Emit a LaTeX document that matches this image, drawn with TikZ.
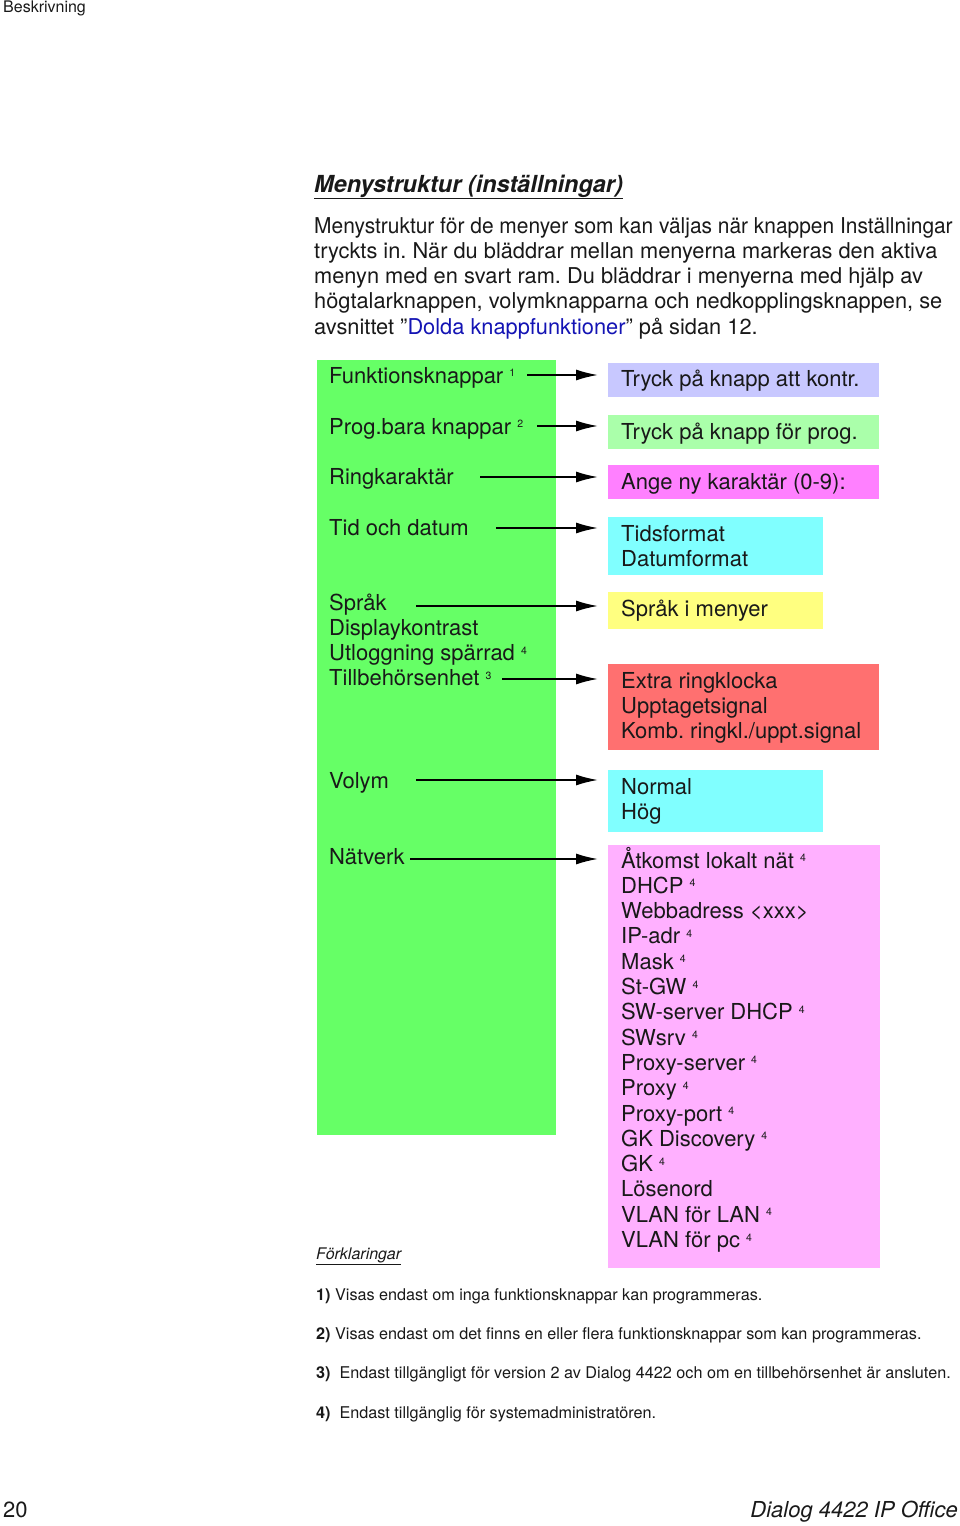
\documentclass[tikz,border=0pt]{standalone}
\usepackage{fontspec}
\setmainfont{TeX Gyre Heros}
\usetikzlibrary{arrows.meta}
\definecolor{gbox}{RGB}{102,255,102}
\definecolor{lav}{RGB}{200,200,255}
\definecolor{lgreen}{RGB}{170,255,170}
\definecolor{mag}{RGB}{255,128,255}
\definecolor{cyanb}{RGB}{128,255,255}
\definecolor{yel}{RGB}{255,255,128}
\definecolor{redb}{RGB}{255,112,112}
\definecolor{pinkb}{RGB}{255,176,255}
\definecolor{linkblue}{RGB}{20,20,180}
\definecolor{txt}{RGB}{25,25,25}
\newcommand{\fn}[1]{\ \raisebox{6.5pt}{\fontsize{10.5}{10.5}\selectfont #1}}
\newcommand{\mytxt}{\fontsize{22}{25.3}\selectfont}
\newcommand{\partxt}{\fontsize{21.8}{25.3}\selectfont}
\newcommand{\smtxt}{\fontsize{16.2}{18}\selectfont}
\frenchspacing
\begin{document}
\begin{tikzpicture}[x=1pt,y=-1pt,
  lbl/.style={anchor=base west,inner sep=0pt,text=txt,font=\mytxt},
  par/.style={anchor=base west,inner sep=0pt,text=txt,font=\partxt},
  small/.style={anchor=base west,inner sep=0pt,text=txt,font=\smtxt},
  boxr/.style={anchor=north west,inner sep=0pt,draw=none},
  arr/.style={-{Latex[length=22pt,width=11pt]},line width=1.7pt,shorten >=10pt}]
\useasboundingbox (0,0) rectangle (960,1526);
% header
\node[small,font=\fontsize{16}{18}\selectfont] (hdr) at (3,12) {Beskrivning};
\node[lbl,font=\fontsize{23.5}{25}\selectfont\bfseries\itshape] (title) at (314,192) {Menystruktur (inställningar)};
\draw[line width=1.3pt,txt] (title.south west) ++(0,1) coordinate (u1) -- (title.south east |- u1);
% paragraph
\node[par] (p1) at (314,233) {\scalebox{0.96}[1]{Menystruktur för de menyer som kan väljas när knappen Inställningar}};
\node[par] (p2) at (314,258.3) {tryckts in. När du bläddrar mellan menyerna markeras den aktiva};
\node[par] (p3) at (314,283.6) {menyn med en svart ram. Du bläddrar i menyerna med hjälp av};
\node[par] (p4) at (314,308.9) {högtalarknappen, volymknapparna och nedkopplingsknappen, se};
\node[par] (p5) at (314,334.2) {avsnittet ”\textcolor{linkblue}{Dolda knappfunktioner}” på sidan 12.};
% green box
\node[boxr,fill=gbox,minimum width=239pt,minimum height=775pt] (g) at (317,360) {};
% left labels
\node[lbl] (l1) at (329,383) {Funktionsknappar\fn{1}};
\node[lbl] (l2) at (329,434) {Prog.bara knappar\fn{2}};
\node[lbl] (l3) at (329,484) {Ringkaraktär};
\node[lbl] (l4) at (329,535) {Tid och datum};
\node[lbl] (l5) at (329,610) {Språk};
\node[lbl] (l5b) at (329,635.3) {Displaykontrast};
\node[lbl] (l5c) at (329,660.6) {Utloggning spärrad\fn{4}};
\node[lbl] (l6) at (329,685.9) {Tillbehörsenhet\fn{3}};
\node[lbl] (l7) at (329,788) {Volym};
\node[lbl] (l8) at (329,864) {Nätverk};
% right boxes
\node[boxr,fill=lav,minimum width=271pt,minimum height=34pt] (r1) at (608,363) {};
\node[lbl] (t1) at (621,386) {Tryck på knapp att kontr.};
\node[boxr,fill=lgreen,minimum width=271pt,minimum height=34pt] (r2) at (608,415) {};
\node[lbl] (t2) at (621,439) {Tryck på knapp för prog.};
\node[boxr,fill=mag,minimum width=271pt,minimum height=34pt] (r3) at (608,465) {};
\node[lbl] (t3) at (621,489) {Ange ny karaktär (0-9):};
\node[boxr,fill=cyanb,minimum width=215pt,minimum height=58pt] (r4) at (608,517) {};
\node[lbl] (t4a) at (621,541) {Tidsformat};
\node[lbl] (t4b) at (621,566.3) {Datumformat};
\node[boxr,fill=yel,minimum width=215pt,minimum height=37pt] (r5) at (608,592) {};
\node[lbl] (t5) at (621,616) {Språk i menyer};
\node[boxr,fill=redb,minimum width=271pt,minimum height=86pt] (r6) at (608,664) {};
\node[lbl] (t6a) at (621,688) {Extra ringklocka};
\node[lbl] (t6b) at (621,713.3) {Upptagetsignal};
\node[lbl] (t6c) at (621,738.6) {Komb. ringkl./uppt.signal};
\node[boxr,fill=cyanb,minimum width=215pt,minimum height=62pt] (r7) at (608,770) {};
\node[lbl] (t7a) at (621,794) {Normal};
\node[lbl] (t7b) at (621,819.3) {Hög};
\node[boxr,fill=pinkb,minimum width=272pt,minimum height=423pt] (r8) at (608,845) {};
\foreach \t [count=\i] in {{Åtkomst lokalt nät\fn{4}},{DHCP\fn{4}},{Webbadress <xxx>},{IP-adr\fn{4}},{Mask\fn{4}},{St-GW\fn{4}},{SW-server DHCP\fn{4}},{SWsrv\fn{4}},{Proxy-server\fn{4}},{Proxy\fn{4}},{Proxy-port\fn{4}},{GK Discovery\fn{4}},{GK\fn{4}},{Lösenord},{VLAN för LAN\fn{4}},{VLAN för pc\fn{4}}}
  \node[lbl] (n\i) at (621,{868+(\i-1)*25.3}) {\t};
% arrows
\coordinate (a1) at (527,375);
\coordinate (a2) at (537,426);
\coordinate (a3) at (480,477);
\coordinate (a4) at (496,528);
\coordinate (a5) at (416,606);
\coordinate (a6) at (502,679);
\coordinate (a7) at (416,780);
\coordinate (a8) at (410,859);
\foreach \i in {1,...,8} \draw[arr] (a\i) -- (a\i -| r\i.west);
% legend
\node[small,font=\fontsize{16}{18}\selectfont\itshape] (fk) at (316,1259) {\underline{Förklaringar}};
\node[small] (f1) at (316,1300) {\textbf{1)} Visas endast om inga funktionsknappar kan programmeras.};
\node[small] (f2) at (316,1339) {\textbf{2)} Visas endast om det finns en eller flera funktionsknappar som kan programmeras.};
\node[small] (f3) at (316,1378) {\textbf{3)}\ \ Endast tillgängligt för version 2 av Dialog 4422 och om en tillbehörsenhet är ansluten.};
\node[small] (f4) at (316,1418) {\textbf{4)}\ \ Endast tillgänglig för systemadministratören.};
% footer
\node[lbl] (pg) at (3,1517) {20};
\node[lbl,anchor=base east,font=\mytxt\itshape] (doc) at (958,1517) {Dialog 4422 IP Office};
\end{tikzpicture}
\end{document}
